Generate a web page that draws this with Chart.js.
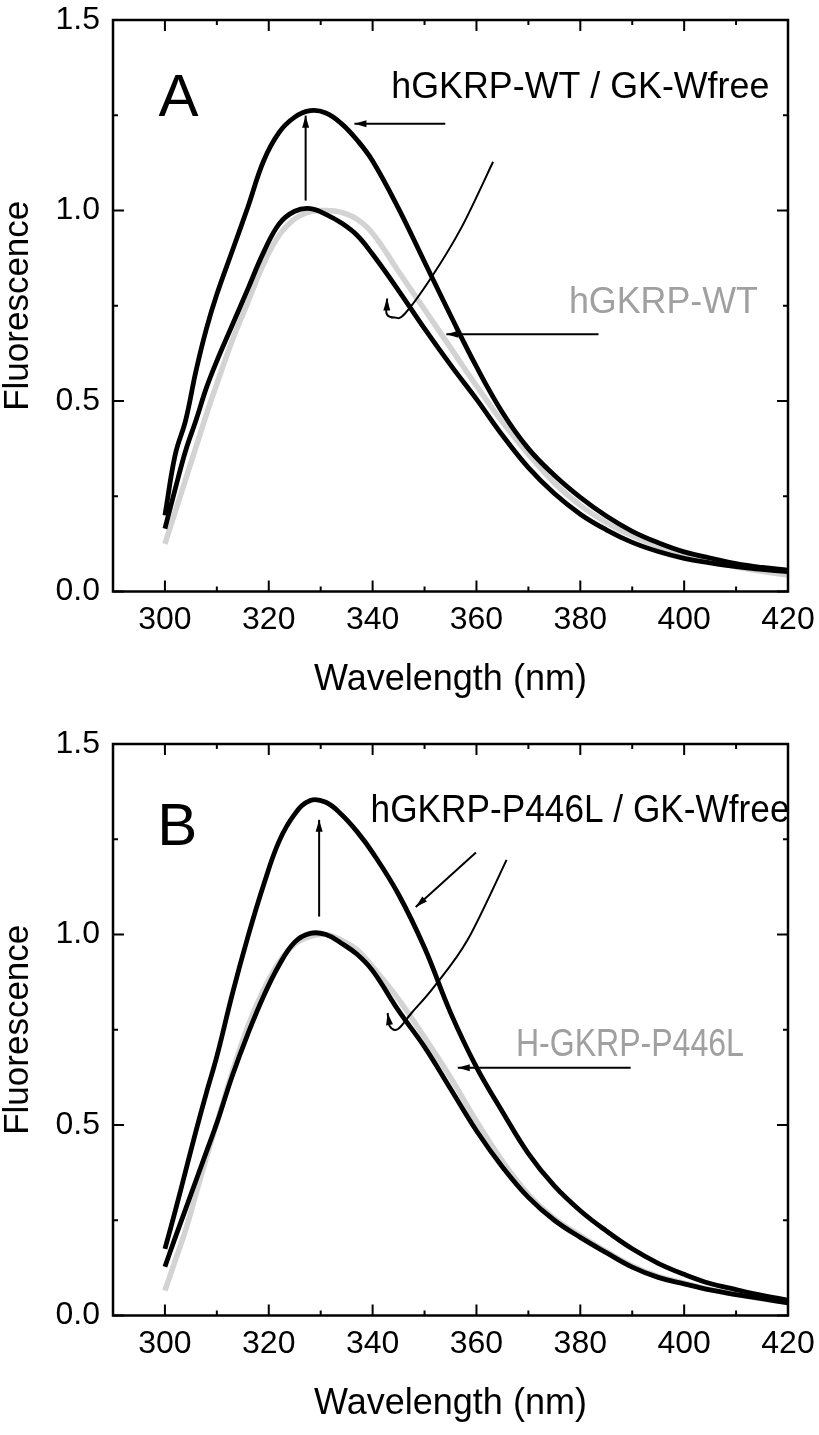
<!DOCTYPE html>
<html>
<head>
<meta charset="utf-8">
<script src="https://cdn.jsdelivr.net/npm/chart.js@4.4.0/dist/chart.umd.min.js"></script>
<style>
  html, body { margin: 0; padding: 0; background: #fff; }
  body { width: 819px; height: 1435px; position: relative; overflow: hidden; }
  canvas { position: absolute; left: 0; }
  #chartA { top: 0; }
  #chartB { top: 724px; }
</style>
</head>
<body>
<canvas id="chartA" width="819" height="711"></canvas>
<canvas id="chartB" width="819" height="711"></canvas>
<script>
// emission wavelengths (nm)
const wavelength = [300, 302, 304, 306, 308, 310, 313, 316, 319, 322, 325, 328, 331, 334, 337, 340,
  345, 350, 355, 360, 365, 370, 375, 380, 385, 390, 395, 400, 405, 410, 415, 420];

// panel A
const wtComplex = [0.20, 0.36, 0.45, 0.58, 0.69, 0.78, 0.895, 1.01, 1.13, 1.205, 1.245, 1.262, 1.256, 1.228, 1.185, 1.13,
  1.005, 0.865, 0.725, 0.59, 0.47, 0.375, 0.305, 0.247, 0.198, 0.158, 0.128, 0.104, 0.088, 0.073, 0.063, 0.056];
const wtReverted = [0.165, 0.27, 0.37, 0.45, 0.535, 0.605, 0.70, 0.795, 0.89, 0.965, 0.998, 1.005, 0.99, 0.967, 0.935, 0.885,
  0.79, 0.69, 0.595, 0.505, 0.41, 0.325, 0.257, 0.203, 0.162, 0.129, 0.105, 0.087, 0.075, 0.065, 0.058, 0.052];
const wtAlone = [0.125, 0.21, 0.295, 0.38, 0.465, 0.545, 0.66, 0.76, 0.86, 0.935, 0.978, 0.997, 1.0, 0.995, 0.977, 0.94,
  0.84, 0.74, 0.64, 0.54, 0.445, 0.36, 0.285, 0.226, 0.181, 0.146, 0.118, 0.096, 0.081, 0.065, 0.053, 0.043];

// panel B
const p446lComplex = [0.175, 0.275, 0.38, 0.485, 0.585, 0.68, 0.845, 0.995, 1.13, 1.245, 1.316, 1.352, 1.347, 1.315, 1.27, 1.215,
  1.105, 0.965, 0.795, 0.652, 0.535, 0.425, 0.34, 0.275, 0.222, 0.175, 0.137, 0.108, 0.084, 0.068, 0.053, 0.04];
const p446lReverted = [0.128, 0.205, 0.28, 0.355, 0.43, 0.505, 0.63, 0.74, 0.838, 0.92, 0.98, 1.003, 1.0, 0.977, 0.948, 0.905,
  0.8, 0.705, 0.595, 0.485, 0.39, 0.31, 0.25, 0.205, 0.165, 0.127, 0.10, 0.083, 0.067, 0.055, 0.044, 0.033];
const p446lAlone = [0.065, 0.145, 0.225, 0.32, 0.415, 0.505, 0.64, 0.76, 0.855, 0.928, 0.975, 0.995, 1.0, 0.985, 0.96, 0.915,
  0.83, 0.73, 0.625, 0.51, 0.405, 0.318, 0.255, 0.21, 0.168, 0.13, 0.103, 0.085, 0.068, 0.055, 0.044, 0.035];

// axes
const xMajorTicks = [300, 320, 340, 360, 380, 400, 420];
const xMinorTicks = [310, 330, 350, 370, 390, 410];
const xTickLabels = ['300', '320', '340', '360', '380', '400', '420'];
const yMajorTicks = [0, 0.5, 1.0, 1.5];
const yMinorTicks = [0.25, 0.75, 1.25];
const yTickLabels = ['0.0', '0.5', '1.0', '1.5'];

const FONT = '"Liberation Sans", Arial, sans-serif';
const GRAY_TEXT = '#a0a0a0';

// annotations, in data units
const notesA = {
  texts: [
    { text: 'A', x: 302.6, y: 1.249, size: 60, align: 'center' },
    { text: 'hGKRP-WT / GK-Wfree', x: 343.6, y: 1.296, size: 36, width: 378 },
    { text: 'hGKRP-WT', x: 377.8, y: 0.730, size: 36, width: 189, color: GRAY_TEXT }
  ],
  arrows: [
    { from: [354.0, 1.228], to: [336.5, 1.228] },
    { from: [327.1, 1.026], to: [327.1, 1.249] },
    { from: [383.5, 0.675], to: [354.2, 0.675] }
  ],
  curves: [
    [[363.2, 1.128], [357.1, 0.955], [351.3, 0.824], [346.2, 0.729], [344.3, 0.719], [342.7, 0.729], [342.8, 0.769]]
  ]
};
const notesB = {
  texts: [
    { text: 'B', x: 302.4, y: 1.235, size: 60, align: 'center' },
    { text: 'hGKRP-P446L / GK-Wfree', x: 339.6, y: 1.294, size: 38, width: 419 },
    { text: 'H-GKRP-P446L', x: 367.6, y: 0.681, size: 39, width: 228, color: GRAY_TEXT }
  ],
  arrows: [
    { from: [359.9, 1.215], to: [348.3, 1.072] },
    { from: [329.7, 1.047], to: [329.7, 1.301] },
    { from: [389.7, 0.650], to: [356.4, 0.650] }
  ],
  curves: [
    [[365.8, 1.196], [358.3, 0.986], [351.9, 0.864], [347.5, 0.794], [344.9, 0.752], [343.3, 0.759], [342.9, 0.794]]
  ]
};

function arrowHead(ctx, x0, y0, x1, y1) {
  const a = Math.atan2(y1 - y0, x1 - x0), len = 12, half = 3.5;
  const bx = x1 - len * Math.cos(a), by = y1 - len * Math.sin(a);
  ctx.beginPath();
  ctx.moveTo(x1, y1);
  ctx.lineTo(bx + half * Math.sin(a), by - half * Math.cos(a));
  ctx.lineTo(bx - half * Math.sin(a), by + half * Math.cos(a));
  ctx.closePath();
  ctx.fill();
}

// frame with inward ticks on all four sides
const framePlugin = {
  id: 'frame',
  afterDatasetsDraw(chart) {
    const { ctx, chartArea: a, scales: { x, y } } = chart;
    ctx.save();
    ctx.strokeStyle = '#000';
    ctx.lineWidth = 2;
    ctx.beginPath();
    const xt = (v, len) => {
      const p = x.getPixelForValue(v);
      ctx.moveTo(p, a.bottom); ctx.lineTo(p, a.bottom - len);
      ctx.moveTo(p, a.top); ctx.lineTo(p, a.top + len);
    };
    const yt = (v, len) => {
      const p = y.getPixelForValue(v);
      ctx.moveTo(a.left, p); ctx.lineTo(a.left + len, p);
      ctx.moveTo(a.right, p); ctx.lineTo(a.right - len, p);
    };
    xMajorTicks.forEach(v => xt(v, 11));
    xMinorTicks.forEach(v => xt(v, 5));
    yMajorTicks.forEach(v => yt(v, 11));
    yMinorTicks.forEach(v => yt(v, 5));
    ctx.stroke();
    ctx.lineWidth = 2.5;
    ctx.strokeRect(a.left, a.top, a.right - a.left, a.bottom - a.top);
    ctx.restore();
  }
};

function notesPlugin(notes) {
  return {
    id: 'notes',
    afterDraw(chart) {
      const { ctx, scales: { x, y } } = chart;
      const P = p => [x.getPixelForValue(p[0]), y.getPixelForValue(p[1])];
      ctx.save();
      ctx.strokeStyle = '#000';
      ctx.fillStyle = '#000';
      ctx.lineWidth = 2;
      notes.arrows.forEach(ar => {
        const [x0, y0] = P(ar.from), [x1, y1] = P(ar.to);
        ctx.beginPath(); ctx.moveTo(x0, y0); ctx.lineTo(x1, y1); ctx.stroke();
        arrowHead(ctx, x0, y0, x1, y1);
      });
      notes.curves.forEach(c => {
        const pts = c.map(P);
        ctx.beginPath();
        ctx.moveTo(pts[0][0], pts[0][1]);
        for (let i = 0; i < pts.length - 1; i++) {
          const p0 = pts[Math.max(i - 1, 0)], p1 = pts[i], p2 = pts[i + 1], p3 = pts[Math.min(i + 2, pts.length - 1)];
          ctx.bezierCurveTo(p1[0] + (p2[0] - p0[0]) / 6, p1[1] + (p2[1] - p0[1]) / 6,
            p2[0] - (p3[0] - p1[0]) / 6, p2[1] - (p3[1] - p1[1]) / 6, p2[0], p2[1]);
        }
        ctx.stroke();
        const n = pts.length;
        arrowHead(ctx, pts[n - 2][0], pts[n - 2][1], pts[n - 1][0], pts[n - 1][1]);
      });
      notes.texts.forEach(t => {
        const [tx, ty] = P([t.x, t.y]);
        ctx.font = t.size + 'px ' + FONT;
        ctx.fillStyle = t.color || '#000';
        ctx.textBaseline = 'alphabetic';
        if (t.align === 'center') {
          ctx.textAlign = 'center';
          ctx.fillText(t.text, tx, ty);
        } else {
          ctx.textAlign = 'left';
          const w = ctx.measureText(t.text).width;
          const sx = t.width ? t.width / w : 1;
          ctx.save();
          ctx.translate(tx, ty);
          ctx.scale(sx, 1);
          ctx.fillText(t.text, 0, 0);
          ctx.restore();
        }
      });
      ctx.restore();
    }
  };
}

function makeChart(id, series, notes) {
  const toPts = vals => wavelength.map((w, i) => ({ x: w, y: vals[i] }));
  return new Chart(document.getElementById(id), {
    type: 'line',
    data: {
      datasets: series.map(s => ({
        label: s.label,
        data: toPts(s.values),
        borderColor: s.color,
        borderWidth: s.width,
        pointRadius: 0,
        fill: false,
        tension: 0.4
      }))
    },
    options: {
      responsive: false,
      animation: false,
      layout: { padding: { top: 20, right: 31, bottom: 0, left: 0 } },
      plugins: { legend: { display: false }, tooltip: { enabled: false } },
      scales: {
        x: {
          type: 'linear', min: 290, max: 420,
          afterBuildTicks: s => { s.ticks = xMajorTicks.map(v => ({ value: v })); },
          afterFit: s => { s.height = 119.5; s.paddingLeft = 0; s.paddingRight = 0; },
          grid: { display: false, drawTicks: false },
          border: { display: false },
          ticks: {
            padding: 9, color: '#000', autoSkip: false, maxRotation: 0,
            font: { size: 32, family: FONT },
            callback: v => xTickLabels[xMajorTicks.indexOf(v)]
          },
          title: {
            display: true, text: 'Wavelength (nm)', color: '#000',
            font: { size: 36, family: FONT, lineHeight: 1 },
            padding: { top: 0, bottom: 13 }
          }
        },
        y: {
          type: 'linear', min: 0, max: 1.5,
          afterBuildTicks: s => { s.ticks = yMajorTicks.map(v => ({ value: v })); },
          afterFit: s => { s.width = 113; s.paddingTop = 0; s.paddingBottom = 0; },
          grid: { display: false, drawTicks: false },
          border: { display: false },
          ticks: {
            padding: 13, color: '#000', autoSkip: false,
            font: { size: 32, family: FONT },
            callback: v => yTickLabels[yMajorTicks.indexOf(v)]
          },
          title: {
            display: true, text: 'Fluorescence', color: '#000',
            font: { size: 35, family: FONT, lineHeight: 1 },
            padding: { top: 1, bottom: 0 }
          }
        }
      }
    },
    plugins: [framePlugin, notesPlugin(notes)]
  });
}

makeChart('chartA', [
  { label: 'hGKRP-WT / GK-Wfree', values: wtComplex, color: '#000', width: 4.8 },
  { label: 'hGKRP-WT / GK-Wfree (reverted)', values: wtReverted, color: '#000', width: 4.8 },
  { label: 'hGKRP-WT', values: wtAlone, color: '#d3d3d3', width: 5.5 }
], notesA);

makeChart('chartB', [
  { label: 'hGKRP-P446L / GK-Wfree', values: p446lComplex, color: '#000', width: 4.8 },
  { label: 'hGKRP-P446L / GK-Wfree (reverted)', values: p446lReverted, color: '#000', width: 4.8 },
  { label: 'H-GKRP-P446L', values: p446lAlone, color: '#d3d3d3', width: 5.5 }
], notesB);
</script>
</body>
</html>
